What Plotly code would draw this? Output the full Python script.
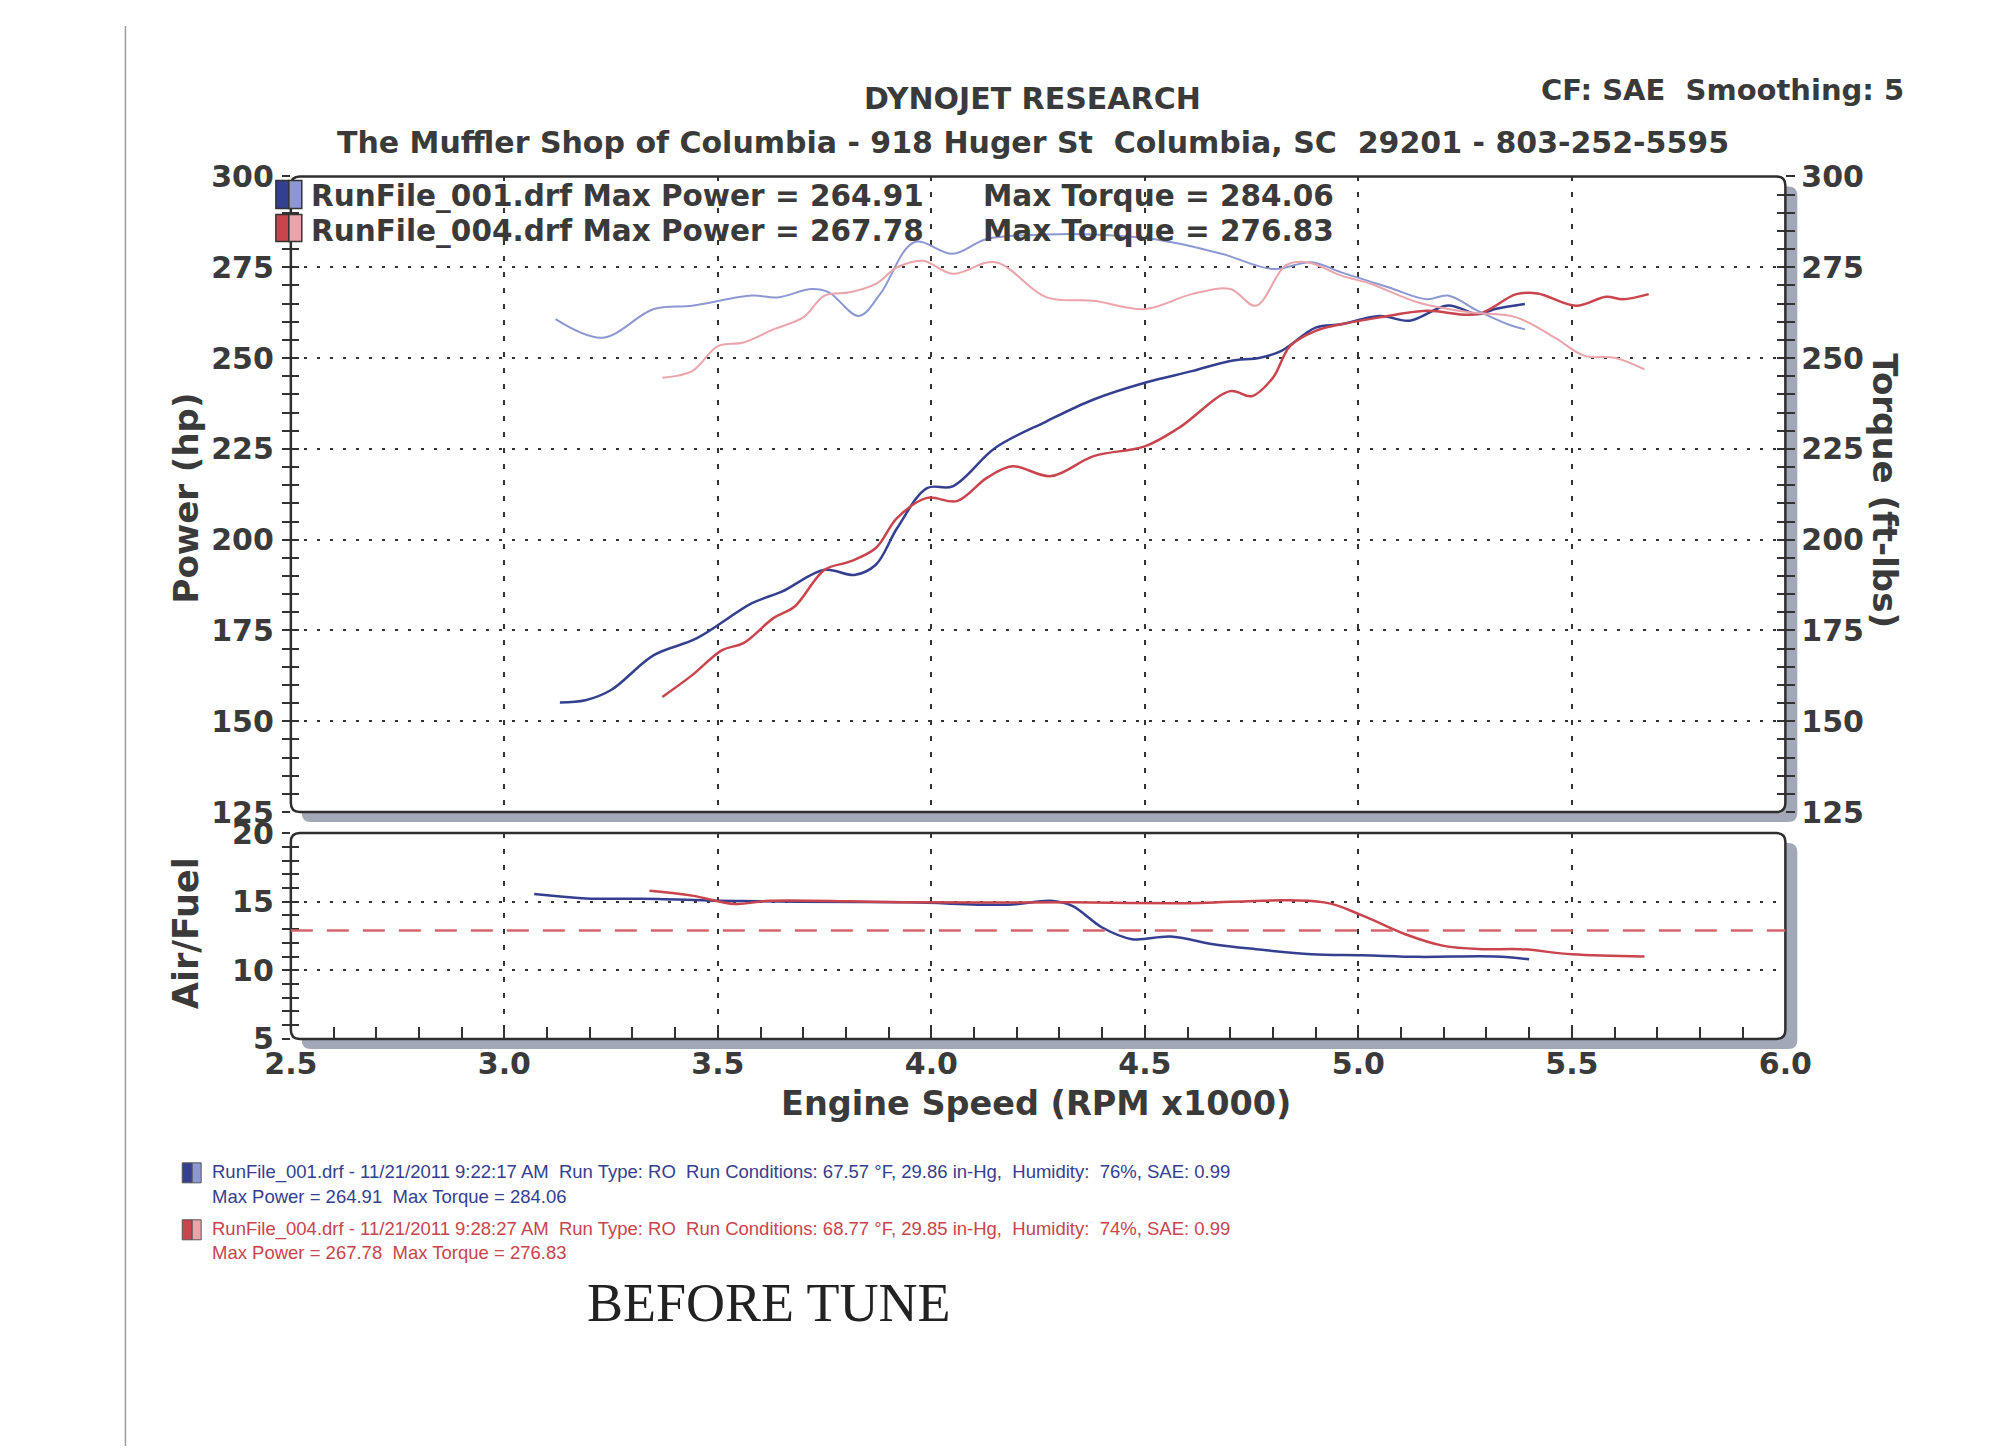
import plotly.graph_objects as go

W, H = 2000, 1455
# the page shows the figure slightly shrunk and shifted: place things in
# reference pixels and convert with this scale/offset
K, OX, OY = 1.024, 33, 24

# RunFile_001 (blue) - power and torque vs rpm (x1000)
rpm_001_hp = [3.13, 3.19, 3.25, 3.35, 3.45, 3.58, 3.65, 3.75, 3.82, 3.87, 3.92, 3.99, 4.05,
              4.15, 4.27, 4.38, 4.50, 4.61, 4.70, 4.77, 4.82, 4.90, 4.96, 5.05, 5.12, 5.21,
              5.28, 5.32, 5.39]
hp_001 = [155.2, 155.8, 158.6, 168.2, 172.8, 182.5, 185.7, 191.7, 190.3, 193.1, 203.2, 214.2,
          214.7, 225.3, 232.6, 238.6, 243.2, 246.4, 249.2, 250.1, 252.0, 258.4, 259.3, 261.6,
          260.3, 264.5, 262.1, 263.5, 264.9]
rpm_001_tq = [3.12, 3.23, 3.35, 3.44, 3.58, 3.64, 3.72, 3.76, 3.83, 3.88, 3.96, 4.05, 4.13,
              4.27, 4.38, 4.54, 4.68, 4.80, 4.89, 4.96, 5.07, 5.16, 5.21, 5.28, 5.35, 5.39]
tq_001 = [260.7, 255.6, 263.5, 264.4, 267.2, 266.7, 269.0, 268.1, 261.6, 267.6, 281.9, 278.7,
          282.8, 284.0, 284.0, 282.4, 278.7, 274.5, 276.4, 273.6, 269.5, 266.2, 267.2, 263.0,
          259.3, 257.9]

# RunFile_004 (red)
rpm_004_hp = [3.37, 3.44, 3.51, 3.56, 3.63, 3.68, 3.75, 3.81, 3.87, 3.92, 3.99, 4.06, 4.13,
              4.19, 4.28, 4.38, 4.50, 4.58, 4.70, 4.75, 4.80, 4.84, 4.90, 4.96, 5.05, 5.16,
              5.28, 5.37, 5.42, 5.51, 5.58, 5.62, 5.68]
hp_004 = [156.7, 162.7, 169.6, 171.5, 178.4, 181.6, 191.7, 194.0, 197.7, 206.0, 211.5, 210.6,
          217.0, 220.2, 217.5, 223.0, 225.7, 230.8, 240.9, 239.5, 244.6, 253.3, 257.5, 259.3,
          261.2, 263.0, 262.1, 267.6, 267.8, 264.4, 266.9, 266.2, 267.6]
rpm_004_tq = [3.37, 3.44, 3.50, 3.56, 3.63, 3.70, 3.75, 3.81, 3.87, 3.92, 3.98, 4.05, 4.15,
              4.27, 4.38, 4.50, 4.61, 4.70, 4.76, 4.83, 4.88, 4.96, 5.03, 5.14, 5.26, 5.37,
              5.46, 5.53, 5.60, 5.67]
tq_004 = [244.6, 246.4, 253.3, 254.3, 257.9, 261.2, 267.2, 268.1, 270.4, 275.0, 276.8, 273.2,
          276.4, 266.7, 265.8, 263.5, 267.6, 269.0, 264.4, 275.5, 276.4, 272.7, 270.4, 265.3,
          262.6, 261.2, 255.6, 250.6, 250.1, 246.9]

# air/fuel
rpm_001_af = [3.07, 3.19, 3.36, 3.49, 3.69, 3.95, 4.18, 4.28, 4.33, 4.40, 4.47, 4.56, 4.66,
              4.76, 4.89, 5.01, 5.14, 5.32, 5.40]
af_001 = [15.56, 15.24, 15.2, 15.07, 15.0, 14.95, 14.78, 15.07, 14.7, 13.12, 12.27, 12.46,
          11.9, 11.54, 11.17, 11.1, 10.98, 11.0, 10.8]
rpm_004_af = [3.34, 3.44, 3.54, 3.62, 3.95, 4.33, 4.58, 4.92, 5.01, 5.11, 5.20, 5.29, 5.38,
              5.50, 5.67]
af_004 = [15.8, 15.44, 14.83, 15.07, 14.95, 14.95, 14.88, 14.95, 13.98, 12.63, 11.78, 11.54,
          11.54, 11.17, 11.0]
afr_target = 12.9

legend_001 = "RunFile_001.drf Max Power = 264.91"
legend_001_tq = "Max Torque = 284.06"
legend_004 = "RunFile_004.drf Max Power = 267.78"
legend_004_tq = "Max Torque = 276.83"
info_001 = ["RunFile_001.drf - 11/21/2011 9:22:17 AM  Run Type: RO  Run Conditions: 67.57 °F, 29.86 in-Hg,  Humidity:  76%, SAE: 0.99",
            "Max Power = 264.91  Max Torque = 284.06"]
info_004 = ["RunFile_004.drf - 11/21/2011 9:28:27 AM  Run Type: RO  Run Conditions: 68.77 °F, 29.85 in-Hg,  Humidity:  74%, SAE: 0.99",
            "Max Power = 267.78  Max Torque = 276.83"]

BLUE = "#34408f"
BLUE_L = "#8d98d2"
RED = "#c9444d"
RED_L = "#eba4ab"
TXT = "#3a3a3a"
FONT = "DejaVu Sans"


def fx(r):
    return (K * r - OX) / W


def fy(r):
    return 1 - (K * r - OY) / H


def rrect(x0, y0, x1, y1, r=9):
    pts = [("M", x0 + r, y0), ("L", x1 - r, y0), ("Q", x1, y0, x1, y0 + r), ("L", x1, y1 - r),
           ("Q", x1, y1, x1 - r, y1), ("L", x0 + r, y1), ("Q", x0, y1, x0, y1 - r),
           ("L", x0, y0 + r), ("Q", x0, y0, x0 + r, y0)]
    s = ""
    for p in pts:
        if p[0] == "Q":
            s += "Q %.5f,%.5f %.5f,%.5f " % (fx(p[1]), fy(p[2]), fx(p[3]), fy(p[4]))
        else:
            s += "%s %.5f,%.5f " % (p[0], fx(p[1]), fy(p[2]))
    return s + "Z"


XL, XR = 289, 1789
TOP0, TOP1 = 174, 810
AF0, AF1 = 831, 1037

fig = go.Figure()

sp = dict(mode="lines", line_shape="spline", showlegend=False, hoverinfo="skip")
fig.add_trace(go.Scatter(x=rpm_001_tq, y=tq_001, xaxis="x", yaxis="y2", line=dict(color=BLUE_L, width=2), **sp))
fig.add_trace(go.Scatter(x=rpm_004_tq, y=tq_004, xaxis="x", yaxis="y2", line=dict(color=RED_L, width=2), **sp))
fig.add_trace(go.Scatter(x=rpm_001_hp, y=hp_001, xaxis="x", yaxis="y", line=dict(color=BLUE, width=2.5), **sp))
fig.add_trace(go.Scatter(x=rpm_004_hp, y=hp_004, xaxis="x", yaxis="y", line=dict(color=RED, width=2.5), **sp))
fig.add_trace(go.Scatter(x=rpm_001_af, y=af_001, xaxis="x2", yaxis="y3", line=dict(color=BLUE, width=2.5), **sp))
fig.add_trace(go.Scatter(x=rpm_004_af, y=af_004, xaxis="x2", yaxis="y3", line=dict(color=RED, width=2.5), **sp))
# empty traces so the inner tick axes get drawn
for ya, xa in [("y4", "x"), ("y5", "x"), ("y6", "x2")]:
    fig.add_trace(go.Scatter(x=[None], y=[None], xaxis=xa, yaxis=ya, showlegend=False))

tickf = dict(family=FONT, size=30, color=TXT, weight="bold")
dom_x = [fx(XL), fx(XR)]
dom_top = [fy(TOP1), fy(TOP0)]
dom_af = [fy(AF1), fy(AF0)]

xcommon = dict(domain=dom_x, range=[2.5, 6.0], dtick=0.5, showgrid=True, gridcolor="#333",
               griddash="5px,11px", gridwidth=1.5, zeroline=False, showline=False)
ycommon = dict(showline=False, zeroline=False, tickfont=tickf, tickcolor="#333", tickwidth=2)

fig.update_layout(
    width=W, height=H,
    margin=dict(l=0, r=0, t=0, b=0),
    paper_bgcolor="white", plot_bgcolor="rgba(0,0,0,0)",
    xaxis=dict(anchor="y", showticklabels=False, ticks="", **xcommon),
    xaxis2=dict(anchor="y3", showticklabels=True, tickformat=".1f", tickfont=tickf, ticks="inside",
                ticklen=12, tickcolor="#333", tickwidth=2, ticklabelstandoff=4,
                minor=dict(dtick=0.1, ticks="inside", ticklen=12, tickcolor="#333", tickwidth=2, showgrid=False),
                **xcommon),
    yaxis=dict(domain=dom_top, anchor="x", range=[125, 300], dtick=25, side="left", showgrid=True,
               gridcolor="#333", griddash="3px,10px", gridwidth=2, ticks="outside", ticklen=8,
               minor=dict(dtick=5, ticks="outside", ticklen=8, tickcolor="#333", tickwidth=2),
               ticklabelstandoff=2, **ycommon),
    yaxis2=dict(domain=dom_top, anchor="x", overlaying="y", range=[125, 300], dtick=25, side="right",
                showgrid=False, ticks="outside", ticklen=9,
                minor=dict(dtick=5, ticks="outside", ticklen=9, tickcolor="#333", tickwidth=2),
                ticklabelstandoff=0, **ycommon),
    yaxis3=dict(domain=dom_af, anchor="x2", range=[5, 20], dtick=5, side="left", showgrid=True,
                gridcolor="#333", griddash="3px,10px", gridwidth=2, ticks="outside", ticklen=8,
                minor=dict(dtick=1, ticks="outside", ticklen=8, tickcolor="#333", tickwidth=2),
                ticklabelstandoff=2, **ycommon),
    yaxis4=dict(domain=dom_top, anchor="x", overlaying="y", range=[125, 300], dtick=25, side="left",
                showgrid=False, showticklabels=False, ticks="inside", ticklen=8, tickcolor="#333", tickwidth=2,
                minor=dict(dtick=5, ticks="inside", ticklen=8, tickcolor="#333", tickwidth=2),
                zeroline=False),
    yaxis5=dict(domain=dom_top, anchor="x", overlaying="y", range=[125, 300], dtick=25, side="right",
                showgrid=False, showticklabels=False, ticks="inside", ticklen=8, tickcolor="#333", tickwidth=2,
                minor=dict(dtick=5, ticks="inside", ticklen=8, tickcolor="#333", tickwidth=2),
                zeroline=False),
    yaxis6=dict(domain=dom_af, anchor="x2", overlaying="y3", range=[5, 20], dtick=5, side="left",
                showgrid=False, showticklabels=False, ticks="inside", ticklen=8, tickcolor="#333", tickwidth=2,
                minor=dict(dtick=1, ticks="inside", ticklen=8, tickcolor="#333", tickwidth=2),
                zeroline=False),
)

shapes = []
# left edge of the scanned page
shapes.append(dict(type="line", xref="paper", yref="paper", x0=fx(123), x1=fx(123), y0=0, y1=1,
                   line=dict(color="#9a9a9a", width=1.5), layer="below"))
# panels: shadow, white face, frame
for (t, b) in [(TOP0, TOP1), (AF0, AF1)]:
    shapes.append(dict(type="path", xref="paper", yref="paper", path=rrect(XL + 11, t + 10, XR + 12, b + 10),
                       fillcolor="#a3a8b8", line_width=0, layer="below"))
    shapes.append(dict(type="path", xref="paper", yref="paper", path=rrect(XL, t, XR, b),
                       fillcolor="white", line_width=0, layer="below"))
    shapes.append(dict(type="path", xref="paper", yref="paper", path=rrect(XL, t, XR, b),
                       line=dict(color="#2e2e2e", width=2.5), layer="above"))
# air/fuel target line
shapes.append(dict(type="line", xref="x2 domain", yref="y3", x0=0, x1=1, y0=afr_target, y1=afr_target,
                   line=dict(color="#d5656d", width=2.5, dash="22px,14px")))
# legend swatches
for (y0, y1, c1, c2) in [(178, 206, BLUE, BLUE_L), (212, 239, RED, RED_L)]:
    shapes.append(dict(type="rect", xref="paper", yref="paper", x0=fx(274), x1=fx(287), y0=fy(y1), y1=fy(y0),
                       fillcolor=c1, line=dict(color="#333", width=1.5)))
    shapes.append(dict(type="rect", xref="paper", yref="paper", x0=fx(287), x1=fx(300), y0=fy(y1), y1=fy(y0),
                       fillcolor=c2, line=dict(color="#333", width=1.5)))
for (y0, y1, c1, c2) in [(1161, 1181, BLUE, BLUE_L), (1218, 1238, RED, RED_L)]:
    shapes.append(dict(type="rect", xref="paper", yref="paper", x0=fx(180), x1=fx(190), y0=fy(y1), y1=fy(y0),
                       fillcolor=c1, line=dict(color="#555", width=1)))
    shapes.append(dict(type="rect", xref="paper", yref="paper", x0=fx(190), x1=fx(199), y0=fy(y1), y1=fy(y0),
                       fillcolor=c2, line=dict(color="#555", width=1)))
fig.update_layout(shapes=shapes)


def note(text, x, y, size, color=TXT, bold=True, xanchor="center", angle=0, family=FONT):
    fig.add_annotation(text=text, x=fx(x), y=fy(y), xref="paper", yref="paper", showarrow=False,
                       xanchor=xanchor, yanchor="middle", textangle=angle,
                       font=dict(family=family, size=size, color=color, weight="bold" if bold else "normal"))


note("DYNOJET RESEARCH", 1033, 96, 30)
note("The Muffler Shop of Columbia - 918 Huger St  Columbia, SC  29201 - 803-252-5595", 1034, 140, 30)
note("CF: SAE  Smoothing: 5", 1910, 87, 29, xanchor="right")
note(legend_001, 307, 194, 29.5, xanchor="left")
note(legend_001_tq, 982, 194, 29.5, xanchor="left")
note(legend_004, 307, 229, 29.5, xanchor="left")
note(legend_004_tq, 982, 229, 29.5, xanchor="left")
note("Power (hp)", 184, 496, 34, angle=-90)
note("Torque (ft-lbs)", 1889, 489, 34, angle=90)
note("Air/Fuel", 184, 931, 35, angle=-90)
note("Engine Speed (RPM x1000)", 1037, 1102, 33.5)
note(info_001[0], 208, 1170, 18.5, color=BLUE, bold=False, xanchor="left", family="Liberation Sans")
note(info_001[1], 208, 1195, 18.5, color=BLUE, bold=False, xanchor="left", family="Liberation Sans")
note(info_004[0], 208, 1227, 18.5, color=RED, bold=False, xanchor="left", family="Liberation Sans")
note(info_004[1], 208, 1251, 18.5, color=RED, bold=False, xanchor="left", family="Liberation Sans")
note("BEFORE TUNE", 769, 1301, 54, color="#222", bold=False, family="Liberation Serif")

fig.write_html("out.html")
